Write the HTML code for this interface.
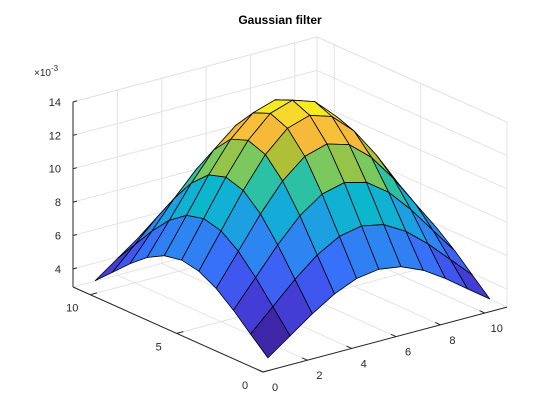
<!DOCTYPE html>
<html><head><meta charset="utf-8"><style>
html,body{margin:0;padding:0;background:#fff}
svg{display:block;font-family:"Liberation Sans",sans-serif}
</style></head><body>
<svg id="chart" width="560" height="420" viewBox="0 0 560 420">
<rect width="560" height="420" fill="#fff"/>
<text x="280" y="24" text-anchor="middle" font-size="12" font-weight="bold" fill="#000">Gaussian filter</text>
<g id="grid"></g>
<g id="axes"></g>
<g id="surf"></g>
<text x="34" y="76" font-size="10" fill="#262626">×10<tspan dy="-5" font-size="8">-3</tspan></text>
</svg>
<script>
// values in units of 1e-3, rows = y index 1..11, cols = x index 1..11
const zRows = [
[2.95,3.91,4.88,5.72,6.29,6.49,6.29,5.72,4.88,3.91,2.95],
[3.91,5.20,6.48,7.59,8.35,8.62,8.35,7.59,6.48,5.20,3.91],
[4.88,6.48,8.08,9.47,10.42,10.75,10.42,9.47,8.08,6.48,4.88],
[5.72,7.59,9.47,11.09,12.21,12.60,12.21,11.09,9.47,7.59,5.72],
[6.29,8.35,10.42,12.21,13.43,13.86,13.43,12.21,10.42,8.35,6.29],
[6.49,8.62,10.75,12.60,13.86,14.30,13.86,12.60,10.75,8.62,6.49],
[6.29,8.35,10.42,12.21,13.43,13.86,13.43,12.21,10.42,8.35,6.29],
[5.72,7.59,9.47,11.09,12.21,12.60,12.21,11.09,9.47,7.59,5.72],
[4.88,6.48,8.08,9.47,10.42,10.75,10.42,9.47,8.08,6.48,4.88],
[3.91,5.20,6.48,7.59,8.35,8.62,8.35,7.59,6.48,5.20,3.91],
[2.95,3.91,4.88,5.72,6.29,6.49,6.29,5.72,4.88,3.91,2.95]
];
const xTicks = [0,2,4,6,8,10];
const yTicks = [0,5,10];
const zTicks = [4,6,8,10,12,14];
const xLim=[0,11], yLim=[0,11], zLim=[2.92,14];

const O=[263,372], ex=[22.18,-5.9], ey=[-17.27,-7.73], ez=16.7;
function P(x,y,z){return [O[0]+x*ex[0]+y*ey[0], O[1]+x*ex[1]+y*ey[1]-(z-zLim[0])*ez];}
const NS='http://www.w3.org/2000/svg';
function mk(tag,attrs,parent){const e=document.createElementNS(NS,tag);for(const k in attrs)e.setAttribute(k,attrs[k]);parent.appendChild(e);return e;}
function line(a,b,col,w,parent,name){const e=mk('line',{x1:a[0].toFixed(1),y1:a[1].toFixed(1),x2:b[0].toFixed(1),y2:b[1].toFixed(1),stroke:col,'stroke-width':w},parent);


return e;}
const grid=document.getElementById('grid'), axes=document.getElementById('axes'), surf=document.getElementById('surf');
const gc='#e3e3e3';
xTicks.forEach(t=>{line(P(t,0,zLim[0]),P(t,11,zLim[0]),gc,1,grid,'floor-grid-x');line(P(t,11,zLim[0]),P(t,11,zLim[1]),gc,1,grid,'wall-grid-x');});
yTicks.forEach(t=>{line(P(0,t,zLim[0]),P(11,t,zLim[0]),gc,1,grid,'floor-grid-y');line(P(11,t,zLim[0]),P(11,t,zLim[1]),gc,1,grid,'wall-grid-y');});
zTicks.forEach(t=>{line(P(0,11,t),P(11,11,t),gc,1,grid,'wall-grid-z');line(P(11,11,t),P(11,0,t),gc,1,grid,'wall-grid-z');});
line(P(0,11,zLim[1]),P(11,11,zLim[1]),gc,1,grid,'box-edge');line(P(11,11,zLim[1]),P(11,0,zLim[1]),gc,1,grid,'box-edge');
line(P(11,0,zLim[0]),P(11,0,zLim[1]),gc,1,grid,'box-edge');line(P(11,11,zLim[0]),P(11,11,zLim[1]),gc,1,grid,'box-edge');
line(P(11,11,zLim[0]),P(11,0,zLim[0]),gc,1,grid,'box-edge');line(P(11,11,zLim[0]),P(0,11,zLim[0]),gc,1,grid,'box-edge');
const ac='#262626';
line(P(0,0,zLim[0]),P(11,0,zLim[0]),ac,1,axes,'x-axis-line');
line(P(0,0,zLim[0]),P(0,11,zLim[0]),ac,1,axes,'y-axis-line');
line(P(0,11,zLim[0]),P(0,11,zLim[1]),ac,1,axes,'z-axis-line');
function txt(s,p,anchor,name){const e=mk('text',{x:p[0].toFixed(1),y:p[1].toFixed(1),'text-anchor':anchor,'font-size':'11',fill:ac},axes);e.textContent=s;

}
xTicks.forEach(t=>{const a=P(t,0,zLim[0]);line(a,P(t,0.3,zLim[0]),ac,1,axes,'x-tick');txt(String(t),[a[0]+12,a[1]+19],'middle','x-tick-label');});
yTicks.forEach(t=>{const a=P(0,t,zLim[0]);line(a,P(0.3,t,zLim[0]),ac,1,axes,'y-tick');txt(String(t),[a[0]-18,a[1]+17],'middle','y-tick-label');});
zTicks.forEach(t=>{const a=P(0,11,t);line(a,[a[0]+4,a[1]-1],ac,1,axes,'z-tick');txt(String(t),[a[0]-12,a[1]+4],'end','z-tick-label');});
const cmap=[[0,62,38,168],[0.12,70,70,232],[0.25,55,115,250],[0.37,35,150,235],[0.5,12,183,205],[0.6,55,196,150],[0.66,125,200,92],[0.72,178,192,52],[0.79,244,183,60],[0.88,250,195,55],[0.94,245,225,40],[1,249,250,20]];
function col(v){const zs=zRows.flat();const lo=Math.min(...zs),hi=Math.max(...zs);let t=(v-lo)/(hi-lo);t=Math.max(0,Math.min(1,t));
for(let i=1;i<cmap.length;i++){if(t<=cmap[i][0]){const a=cmap[i-1],b=cmap[i],f=(t-a[0])/(b[0]-a[0]);return 'rgb('+[1,2,3].map(k=>Math.round(a[k]+(b[k]-a[k])*f)).join(',')+')';}}return 'rgb(249,250,20)';}
const faces=[];
for(let j=0;j<10;j++)for(let i=0;i<10;i++){faces.push({i,j,d:0.614*(i+1.5)+0.789*(j+1.5)});}
faces.sort((a,b)=>b.d-a.d);
faces.forEach(f=>{const {i,j}=f;
const pts=[[i,j],[i+1,j],[i+1,j+1],[i,j+1]].map(([a,b])=>P(a+1,b+1,zRows[b][a]));
const e=mk('polygon',{points:pts.map(p=>p[0].toFixed(1)+','+p[1].toFixed(1)).join(' '),fill:col(zRows[j][i]),stroke:'#000','stroke-width':'0.8','stroke-linejoin':'round'},surf);


});
</script>
</body></html>
